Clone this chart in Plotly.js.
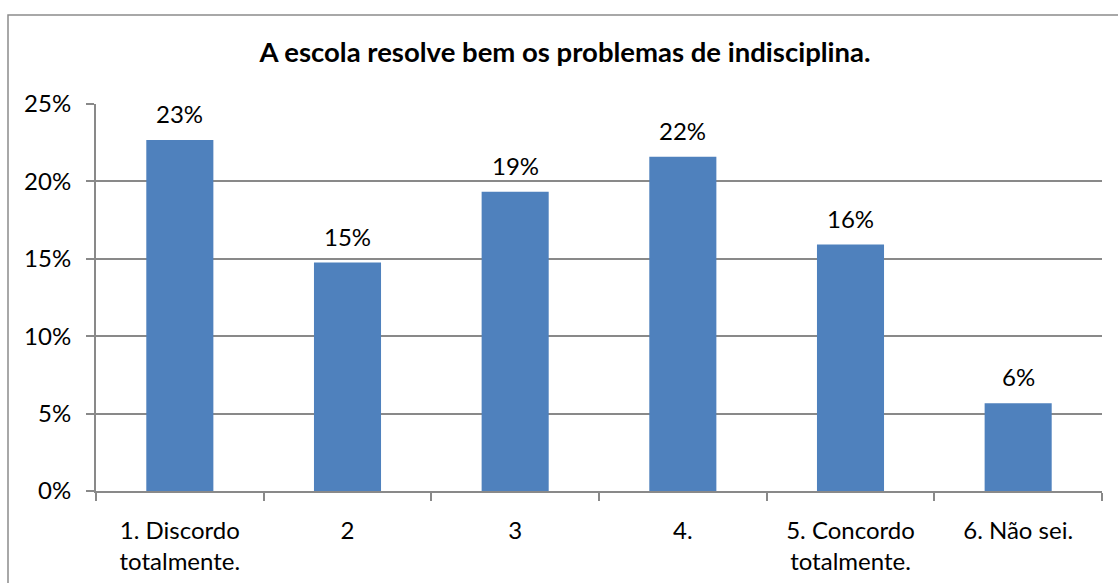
<!DOCTYPE html>
<html>
<head>
<meta charset="utf-8">
<script src="https://cdn.plot.ly/plotly-3.0.1.min.js"></script>
<style>html,body{margin:0;padding:0;background:#fff;}#chart{width:1118px;height:583px;}</style>
</head>
<body>
<div id="chart"></div>
<script>
const categories = ["1. Discordo<br>totalmente.", "2", "3", "4.", "5. Concordo<br>totalmente.", "6. Não sei."];
const values = [0.2268, 0.1476, 0.1933, 0.2159, 0.1592, 0.0567];
const labels = ["23%", "15%", "19%", "22%", "16%", "6%"];
const yTicks = [0, 0.05, 0.10, 0.15, 0.20, 0.25];
const yTickText = ["0%", "5%", "10%", "15%", "20%", "25%"];
const titleText = "A escola resolve bem os problemas de indisciplina.";

const FONT = "Lato, 'Liberation Sans', sans-serif";
const L = 96, R = 16, T = 104, B = 92, W = 1118, H = 583;
const pw = W - L - R, ph = H - T - B;
const FS = 24;

const trace = {
  type: "bar",
  x: categories,
  y: values,
  marker: {color: "#4F81BD", line: {color: "#4F81BD", width: 0}},
  hoverinfo: "skip"
};

const annotations = categories.map((c, i) => ({
  x: i, y: values[i], xref: "x", yref: "y",
  text: labels[i], showarrow: false,
  xanchor: "center", yanchor: "bottom", yshift: 10,
  font: {family: FONT, size: FS, color: "#000"}
}));

const layout = {
  width: W, height: H,
  margin: {l: L, r: R, t: T, b: B},
  paper_bgcolor: "#fff",
  plot_bgcolor: "#fff",
  showlegend: false,
  bargap: 0.6,
  font: {family: FONT, size: FS, color: "#000"},
  title: {
    text: "<b>" + titleText + "</b>",
    font: {family: FONT, size: 27.5, color: "#000"},
    x: 565 / W, xref: "container", xanchor: "center",
    y: (H - 52) / H, yref: "container", yanchor: "middle"
  },
  xaxis: {
    type: "category",
    showgrid: false,
    showline: true, linecolor: "#898989", linewidth: 2,
    ticks: "outside", tickson: "boundaries", ticklen: 8, tickcolor: "#898989", tickwidth: 2,
    ticklabelstandoff: 17,
    tickfont: {family: FONT, size: FS, color: "#000"},
    fixedrange: true
  },
  yaxis: {
    range: [0, 0.25],
    tickvals: yTicks, ticktext: yTickText,
    showgrid: true, gridcolor: "#898989", gridwidth: 2,
    showline: true, linecolor: "#898989", linewidth: 2,
    ticks: "outside", ticklen: 8, tickcolor: "#898989", tickwidth: 2,
    ticklabelstandoff: 10,
    tickfont: {family: FONT, size: FS, color: "#000"},
    zeroline: false,
    fixedrange: true
  },
  annotations: annotations,
  shapes: [{
    type: "rect", xref: "paper", yref: "paper",
    x0: (8 - L) / pw, x1: (W + 10 - L) / pw,
    y0: (H - B - (H + 10)) / ph, y1: (H - B - 15) / ph,
    line: {color: "#8c8c8c", width: 1.5}, fillcolor: "rgba(0,0,0,0)", layer: "below"
  }]
};

Plotly.newPlot("chart", [trace], layout, {displayModeBar: false, staticPlot: true});
</script>
</body>
</html>
